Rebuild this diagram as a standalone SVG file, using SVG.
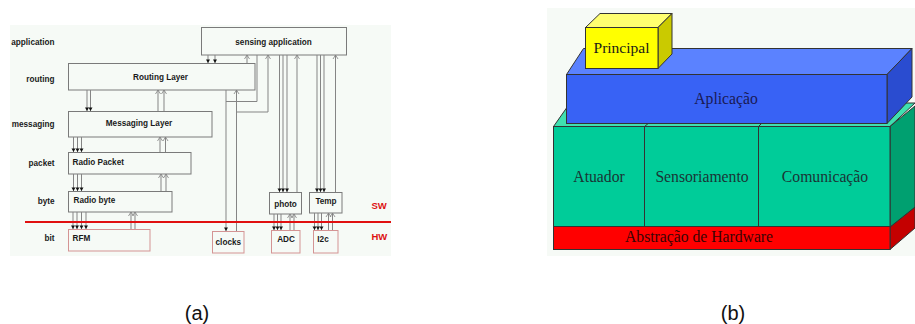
<svg xmlns="http://www.w3.org/2000/svg" width="915" height="324" viewBox="0 0 915 324">
<style>
.bg{fill:#f6faf6}
.sw{fill:none;stroke:#7a7a7a;stroke-width:1}
.hw{fill:none;stroke:#d49494;stroke-width:1}
.t{font-family:"Liberation Sans",Arial,sans-serif;font-weight:bold;font-size:8.2px;fill:#1a1a1a}
.e{text-anchor:end}
.m{text-anchor:middle}
.red{fill:#dd1111;font-size:9.5px}
.cn path{stroke:#858585;stroke-width:1;fill:none}
.d{marker-end:url(#fd)}
.u{marker-end:url(#ou)}
.r{font-family:"Liberation Serif","Times New Roman",serif;font-size:15.7px;text-anchor:middle}
.ed{stroke:#333;stroke-width:1}
.cap{font-family:"Liberation Sans",Arial,sans-serif;font-size:20px;text-anchor:middle;fill:#111}
</style>
<defs>
<marker id="fd" markerUnits="userSpaceOnUse" markerWidth="5" markerHeight="5" refX="3.5" refY="2" orient="auto" style="overflow:visible"><path d="M0,0 L3.5,2 L0,4 z" fill="#111"/></marker>
<marker id="ou" markerUnits="userSpaceOnUse" markerWidth="5" markerHeight="6" refX="4" refY="2.5" orient="auto" style="overflow:visible"><path d="M0,0 L4,2.5 L0,5" fill="none" stroke="#808080" stroke-width="0.8"/></marker>
</defs>
<rect width="915" height="324" fill="#ffffff"/>

<!-- (a) panel -->
<rect class="bg" x="10" y="25" width="381" height="231"/>
<g id="layer-labels" class="t e">
<text x="54.5" y="44.5">application</text>
<text x="54.5" y="81.5">routing</text>
<text x="54.5" y="126.5">messaging</text>
<text x="54.5" y="166">packet</text>
<text x="54.5" y="203.5">byte</text>
<text x="54.5" y="241">bit</text>
</g>

<g id="sensing-application"><rect class="sw" x="201.5" y="27.5" width="145" height="27.5"/><text class="t m" x="273.5" y="44.5">sensing application</text></g>
<g id="routing-layer"><rect class="sw" x="68.5" y="63.5" width="186.5" height="26.5"/><text class="t m" x="160.5" y="80">Routing Layer</text></g>
<g id="messaging-layer"><rect class="sw" x="68.5" y="111.5" width="143.5" height="25.5"/><text class="t m" x="139" y="126">Messaging Layer</text></g>
<g id="radio-packet"><rect class="sw" x="68.5" y="152.5" width="122.5" height="21.5"/><text class="t" x="72.5" y="164.5">Radio Packet</text></g>
<g id="radio-byte"><rect class="sw" x="68.5" y="191.5" width="103.5" height="20.5"/><text class="t" x="73.5" y="203">Radio byte</text></g>
<g id="photo"><rect class="sw" x="269.5" y="192.5" width="32" height="21.5"/><text class="t m" x="285.5" y="207">photo</text></g>
<g id="temp"><rect class="sw" x="309.5" y="192.5" width="32.5" height="20.5"/><text class="t m" x="326" y="203.5">Temp</text></g>
<g id="rfm"><rect class="hw" x="68.5" y="229.5" width="81.5" height="21.5"/><text class="t" x="72.5" y="241">RFM</text></g>
<g id="clocks"><rect class="hw" x="212.5" y="231.5" width="31.5" height="21.5"/><text class="t m" x="228.3" y="244.5">clocks</text></g>
<g id="adc"><rect class="hw" x="271.5" y="230.5" width="28.5" height="22.5"/><text class="t m" x="286" y="242">ADC</text></g>
<g id="i2c"><rect class="hw" x="313.5" y="230.5" width="24.5" height="22.5"/><text class="t m" x="323" y="242">I2c</text></g>

<g id="connectors" class="cn">
<path class="d" d="M87,90 V111"/><path class="d" d="M90.5,90 V111"/>
<path class="u" d="M158,111 V90"/><path class="u" d="M164,111 V90"/>
<path class="d" d="M73.5,137 V152"/><path class="d" d="M77.5,137 V152"/><path class="d" d="M81.5,137 V152"/>
<path class="u" d="M160,152 V137"/><path class="u" d="M165.5,152 V137"/>
<path class="d" d="M73.5,174 V191"/><path class="d" d="M77.5,174 V191"/><path class="d" d="M81.5,174 V191"/>
<path class="u" d="M161,191 V174"/><path class="u" d="M166,191 V174"/>
<path class="d" d="M73,212 V229"/><path class="d" d="M77,212 V229"/><path class="d" d="M81.5,212 V229"/><path class="d" d="M86,212 V229"/>
<path class="u" d="M131,229 V212"/><path class="u" d="M135,229 V212"/>
<path class="d" d="M208,55 V63"/><path class="d" d="M215,55 V63"/>
<path class="u" d="M247,63 V55"/>
<path d="M257,55 V101.5 H226"/>
<path class="d" d="M226,90 V231"/>
<path class="u" d="M236.5,231 V90"/>
<path class="u" d="M236.5,112 H268 V55"/>
<path class="d" d="M279.5,55 V192"/><path class="d" d="M283,55 V192"/><path class="d" d="M287,55 V192"/>
<path class="u" d="M297,192 V55"/>
<path class="d" d="M317,55 V192"/><path class="d" d="M320.5,55 V192"/><path class="d" d="M324,55 V192"/>
<path class="u" d="M335.5,192 V55"/>
<path class="d" d="M274,214 V230"/><path class="d" d="M277.5,214 V230"/><path class="d" d="M281,214 V230"/>
<path class="u" d="M290,230 V214"/><path class="u" d="M294,230 V214"/>
<path class="d" d="M314.5,213 V230"/><path class="d" d="M318,213 V230"/><path class="d" d="M321.5,213 V230"/>
<path class="u" d="M328.5,230 V213"/><path class="u" d="M332.5,230 V213"/>
</g>
<line x1="25" y1="222" x2="391" y2="222" stroke="#e01010" stroke-width="2"/>
<text class="t red" x="371.5" y="208.5">SW</text>
<text class="t red" x="371.5" y="240">HW</text>
<text class="cap" x="197" y="320">(a)</text>

<!-- (b) panel -->
<rect class="bg" x="547" y="8" width="368" height="248"/>
<g id="abstracao-hardware">
<polygon class="ed" points="890,227 915,207 915,228 890,249.5" fill="#c40000"/>
<rect class="ed" x="553.5" y="226.5" width="336.5" height="23" fill="#ff0000"/>
<text class="r" x="699" y="241.5" fill="#3a0505">Abstração de Hardware</text>
</g>
<g id="camada-servicos">
<polygon class="ed" points="553.5,126.5 570,103 915,103 890,126.5" fill="#3fe0b0"/>
<polygon class="ed" points="890,126.5 915,106 915,207 890,227" fill="#00a070"/>
</g>
<g id="atuador"><rect class="ed" x="553.5" y="126.5" width="91" height="100" fill="#00cc99"/><text class="r" x="599" y="181.5" fill="#1a3535">Atuador</text></g>
<g id="sensoriamento"><rect class="ed" x="644.5" y="126.5" width="114" height="100" fill="#00cc99"/><line class="ed" x1="644.5" y1="126.5" x2="650" y2="122"/><text class="r" x="702" y="181.5" fill="#1a3535">Sensoriamento</text></g>
<g id="comunicacao"><rect class="ed" x="758.5" y="126.5" width="131.5" height="100" fill="#00cc99"/><line class="ed" x1="758.5" y1="126.5" x2="763" y2="122"/><text class="r" x="825" y="181.5" fill="#1a3535">Comunicação</text></g>
<g id="aplicacao">
<polygon class="ed" points="566.5,74.5 583.5,48.5 912,48.5 887,74.5" fill="#5b82ff"/>
<polygon class="ed" points="887,74.5 912,48.5 912,97 887,123.5" fill="#2a4cd0"/>
<rect class="ed" x="566.5" y="74.5" width="320.5" height="49" fill="#3862f5"/>
<text class="r" x="726" y="104" fill="#1a1a55">Aplicação</text>
</g>
<g id="principal">
<polygon class="ed" points="585.5,27.5 600,13.5 672,13.5 658,27.5" fill="#ffff70"/>
<polygon class="ed" points="658,27.5 672,13.5 672,54 658,68.5" fill="#caca00"/>
<rect class="ed" x="585.5" y="27.5" width="72.5" height="41" fill="#ffff00"/>
<text class="r" x="621.5" y="53" fill="#1a1a1a" style="font-size:15.5px">Principal</text>
</g>
<text class="cap" x="733" y="320">(b)</text>
</svg>
